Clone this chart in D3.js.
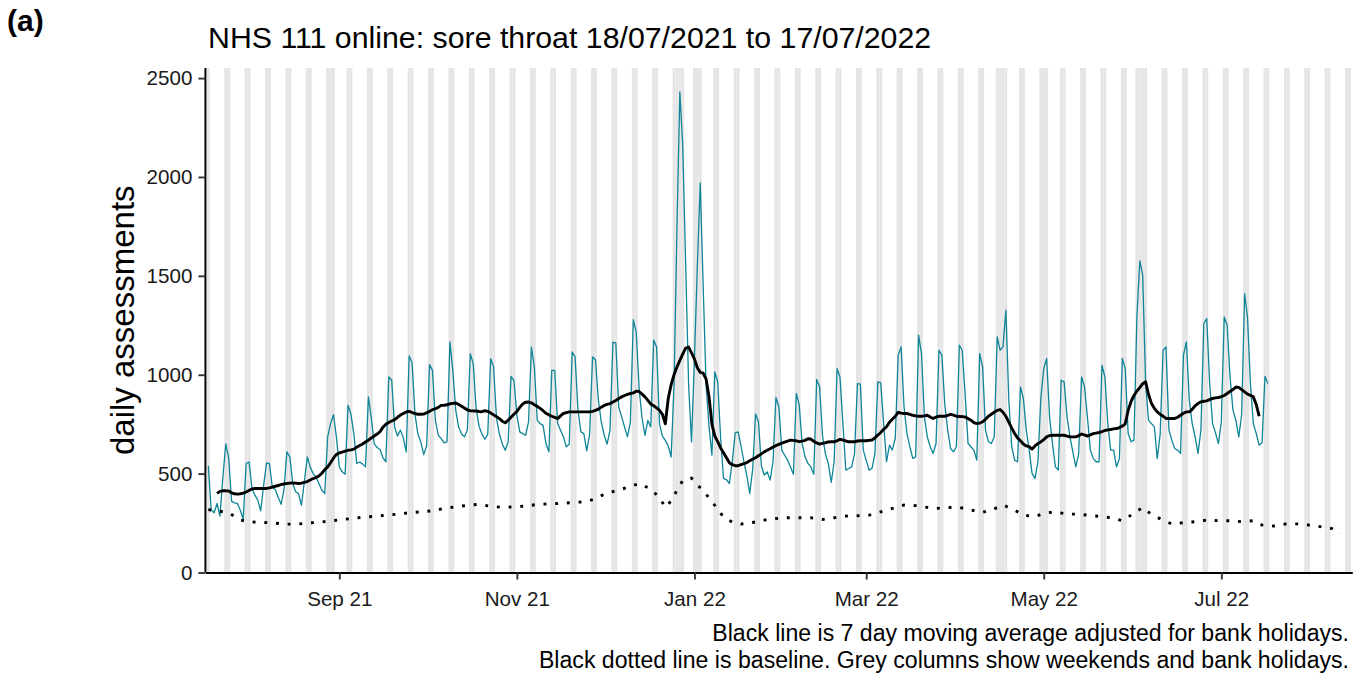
<!DOCTYPE html>
<html><head><meta charset="utf-8">
<script src="https://cdn.jsdelivr.net/npm/d3@7"></script>
<style>
html,body{margin:0;padding:0;background:#fff;}
svg{display:block;font-family:"Liberation Sans",Arial,Helvetica,sans-serif;}
</style></head><body>
<svg id="chart" width="1362" height="675"></svg>
<script>
// ---------- data ----------
const seriesStart = "2021-07-18";          // first daily value
const dailyAssessments = [
540,316,302,349,285,480,
650,580,360,352,349,315,270,
551,559,425,391,366,312,440,
554,550,430,420,380,345,420,
610,585,450,408,399,340,460,
585,534,500,484,450,416,399,
685,753,798,686,534,509,497,
846,800,702,551,559,548,534,
888,780,650,632,622,580,560,
989,972,736,690,720,680,610,
1095,1060,800,700,660,596,640,
1051,1022,770,694,677,655,660,
1166,1022,820,736,700,686,720,
1107,1056,830,740,700,674,700,
1081,1040,780,700,650,618,660,
992,972,795,711,702,694,760,
1140,1040,770,753,744,652,610,
1022,1022,753,719,686,635,650,
1115,1090,820,711,702,615,700,
1090,1076,870,761,694,649,720,
1165,1160,837,787,736,686,760,
1278,1216,930,780,694,769,736,
1175,1140,750,690,668,640,584,
950,1750,2430,2150,1550,950,660,
1079,1549,1970,1450,950,740,593,
1014,963,680,475,470,450,560,
706,711,640,560,490,400,520,
801,762,540,492,509,467,560,
885,838,619,593,568,534,497,
905,846,652,585,551,534,497,
976,939,690,600,551,455,560,
1031,989,753,518,526,534,600,
955,952,619,568,518,526,600,
964,959,753,560,644,619,680,
1099,1141,838,703,636,577,585,
1200,1107,787,686,636,602,652,
1124,1099,850,720,627,610,636,
1149,1124,900,652,636,619,568,
1107,1040,720,661,652,686,1191,
1124,1141,1326,871,636,568,560,
939,880,720,620,500,476,560,
880,1031,1082,787,652,534,518,
972,964,787,686,610,534,600,
989,939,787,619,577,560,560,
1048,989,753,619,619,534,576,
1082,1031,703,661,669,1292,1575,
1503,955,770,753,736,576,700,
1124,1141,720,669,627,619,602,
1100,1166,871,753,686,602,720,
1259,1284,955,753,706,652,760,
1292,1250,989,821,770,686,800,
1410,1290,955,753,703,644,656,
992,955];

const maStart = "2021-07-21";              // first moving-average value
const movingAverage = [
400,410,413,413,412,403,398,396,398,401,
407,415,422,425,425,425,425,425,428,432,
436,440,444,448,450,452,453,452,450,452,
456,460,468,475,480,488,502,520,534,555,
578,597,605,609,614,618,620,624,634,642,
650,660,669,680,690,700,712,735,750,759,
766,773,785,796,804,812,815,809,804,800,
800,801,808,815,823,828,835,845,846,848,
853,855,857,850,841,832,822,818,817,817,
814,813,818,815,806,797,788,778,765,757,
770,785,800,814,835,852,861,862,858,848,
840,830,818,805,797,790,784,778,792,804,
808,812,812,812,812,812,812,812,812,815,
820,826,836,845,850,854,862,870,880,888,
895,901,905,908,917,915,902,888,870,852,
843,832,820,800,752,880,950,1000,1040,1073,
1105,1135,1140,1110,1080,1035,1012,1008,978,890,
750,690,662,630,605,580,555,545,540,540,
545,550,556,565,573,580,590,600,610,618,
626,634,642,648,654,659,664,669,668,666,
662,664,668,676,675,663,655,649,653,656,
660,661,661,666,673,670,665,661,661,661,
665,666,666,666,668,670,680,695,708,724,
737,760,775,790,810,806,804,804,800,795,
792,790,790,792,795,786,779,786,790,790,
790,795,800,796,790,789,788,786,778,770,
758,753,755,762,775,790,800,810,820,824,
810,790,760,730,703,680,666,650,640,636,
624,640,652,660,672,686,692,694,694,694,
694,694,690,686,686,686,692,700,696,690,
696,702,705,708,712,718,721,723,726,728,
733,740,752,820,865,895,918,935,955,964,
900,855,830,812,800,790,779,779,779,779,
785,795,805,812,812,825,843,855,863,866,
868,874,880,883,885,889,895,905,915,925,
938,936,925,913,902,896,888,850,790];

const baselineOrigin = "2021-07-17";       // baseline days are counted from this date
const baselineDays = [1,4,8,12,15,19,23,27,31,35,39,43,47,51,55,59,62,66,70,74,78,82,86,90,94,98,102,106,110,114,118,122,126,130,134,137,141,145,149,153,156,158,160,162,164,167,170,172,175,178,181,184,188,192,196,200,204,208,212,216,220,224,228,232,236,240,244,248,251,255,259,263,267,271,274,278,281,285,288,292,296,300,303,307,311,315,318,322,325,329,332,336,340,344,348,352,356,360,363,367,371,375,379,383,387,390];
const baselineValues = [318,312,302,266,256,254,251,245,244,250,254,261,268,274,281,285,290,295,302,307,312,324,332,340,345,335,329,332,336,344,347,349,354,357,372,396,413,430,450,422,379,329,362,416,465,477,428,396,340,280,255,245,253,265,273,277,277,277,268,277,285,287,290,307,324,341,338,329,324,329,329,316,304,322,341,316,290,282,299,307,295,295,290,284,277,262,290,329,293,265,245,252,257,265,262,262,257,262,240,235,245,246,240,232,222,198];

const bankHolidays = ["2021-08-30","2021-12-27","2021-12-28","2022-01-03","2022-04-15","2022-04-18","2022-05-02","2022-06-02","2022-06-03"];
const axisStart = "2021-07-17";
const axisEnd = "2022-08-15";
const tickDates = ["2021-09-01","2021-11-01","2022-01-01","2022-03-01","2022-05-01","2022-07-01"];
const tickLabels = ["Sep 21","Nov 21","Jan 22","Mar 22","May 22","Jul 22"];
const yTicks = [0,500,1000,1500,2000,2500];
const titleText = "NHS 111 online: sore throat 18/07/2021 to 17/07/2022";
const panelLabel = "(a)";
const yTitle = "daily assessments";
const captionLines = ["Black line is 7 day moving average adjusted for bank holidays.",
                      "Black dotted line is baseline. Grey columns show weekends and bank holidays."];

// ---------- drawing ----------
const parse = d3.utcParse("%Y-%m-%d");
const DAY = 864e5;
const svg = d3.select("#chart");
const L = 205.4, R = 1352.3, T = 68, B = 572.5;

const x = d3.scaleUtc().domain([parse(axisStart), parse(axisEnd)]).range([L, R]);
const y = d3.scaleLinear().domain([0, 2551]).range([B, T]);

svg.append("defs").append("clipPath").attr("id","panel")
  .append("rect").attr("x",L).attr("y",T).attr("width",R-L).attr("height",B-T);

const plot = svg.append("g").attr("clip-path","url(#panel)");

// grey columns: weekends and bank holidays
const bh = new Set(bankHolidays);
const fmt = d3.utcFormat("%Y-%m-%d");
const greyDays = d3.utcDay.range(d3.utcDay.offset(parse(axisStart), -1), d3.utcDay.offset(parse(axisEnd), 1))
  .filter(d => d.getUTCDay() === 0 || d.getUTCDay() === 6 || bh.has(fmt(d)));
plot.append("g").selectAll("rect").data(greyDays).join("rect")
  .attr("x", d => x(new Date(+d - DAY/2)))
  .attr("width", d => x(new Date(+d + DAY/2)) - x(new Date(+d - DAY/2)))
  .attr("y", T).attr("height", B - T)
  .attr("fill", "#e5e5e5");

// daily series
const s0 = parse(seriesStart);
const daily = dailyAssessments.map((v,i) => ({date: d3.utcDay.offset(s0, i), v}));
plot.append("path").datum(daily)
  .attr("fill","none").attr("stroke","#0f8598").attr("stroke-width",1.3)
  .attr("stroke-linejoin","round")
  .attr("d", d3.line().x(d => x(d.date)).y(d => y(d.v)));

// baseline (dotted)
const b0 = parse(baselineOrigin);
const base = baselineDays.map((n,i) => ({date: d3.utcDay.offset(b0, n), v: baselineValues[i]}));
plot.append("path").datum(base)
  .attr("fill","none").attr("stroke","#000").attr("stroke-width",2.9)
  .attr("stroke-dasharray","2.9 8.8")
  .attr("d", d3.line().x(d => x(d.date)).y(d => y(d.v)));

// moving average
const m0 = parse(maStart);
const ma = movingAverage.map((v,i) => ({date: d3.utcDay.offset(m0, i), v}));
plot.append("path").datum(ma)
  .attr("fill","none").attr("stroke","#000").attr("stroke-width",2.9)
  .attr("stroke-linejoin","round").attr("stroke-linecap","butt")
  .attr("d", d3.line().x(d => x(d.date)).y(d => y(d.v)));

// axes
const xAxis = svg.append("g").attr("transform",`translate(0,${B})`)
  .call(d3.axisBottom(x).tickValues(tickDates.map(parse))
    .tickFormat((d,i) => tickLabels[i]).tickSize(7).tickSizeOuter(0).tickPadding(12));
const yAxis = svg.append("g").attr("transform",`translate(${L},0)`)
  .call(d3.axisLeft(y).tickValues(yTicks).tickFormat(d3.format("d"))
    .tickSize(7).tickSizeOuter(0).tickPadding(6));
yAxis.select(".domain").attr("d", `M0,${T}V${B}`);
[xAxis, yAxis].forEach(g => {
  g.select(".domain").attr("stroke","#000").attr("stroke-width",1.9);
  g.selectAll(".tick line").attr("stroke","#333").attr("stroke-width",1.9);
  g.selectAll(".tick text").attr("fill","#1a1a1a").attr("font-size",20.6)
    .attr("font-family","'Liberation Sans',Arial,sans-serif");
});

// texts
svg.append("text").attr("x",7).attr("y",31).attr("font-size",30).attr("font-weight","bold")
  .attr("fill","#000").text(panelLabel);
svg.append("text").attr("x",208).attr("y",48).attr("font-size",30.3).attr("fill","#000").text(titleText);
svg.append("text").attr("transform",`translate(134,${(T+B)/2}) rotate(-90)`)
  .attr("text-anchor","middle").attr("font-size",33).attr("fill","#000").text(yTitle);
captionLines.forEach((t,i) => {
  svg.append("text").attr("x",1349).attr("y",641 + i*27).attr("text-anchor","end")
    .attr("font-size",23.1).attr("fill","#000").text(t);
});
</script>
</body></html>
